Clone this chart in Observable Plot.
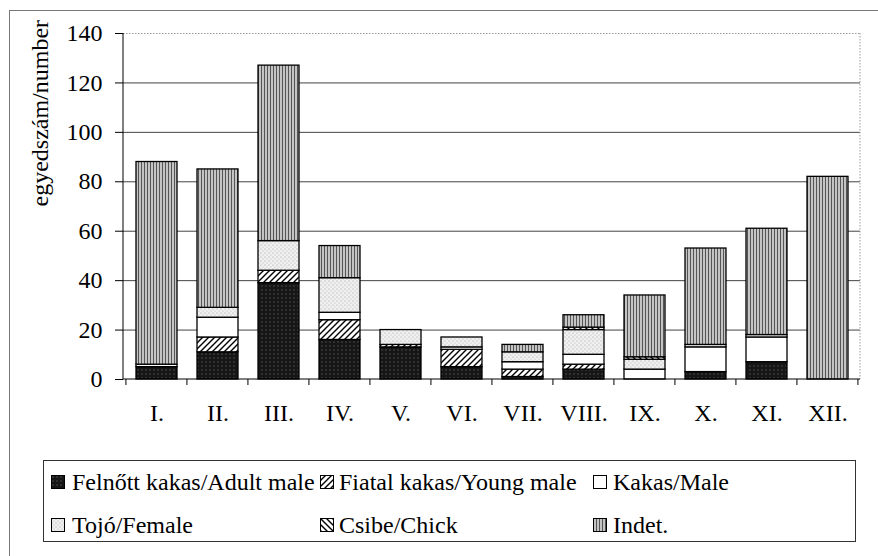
<!DOCTYPE html>
<html><head><meta charset="utf-8">
<script src="https://cdn.jsdelivr.net/npm/d3@7"></script>
<script src="https://cdn.jsdelivr.net/npm/@observablehq/plot@0.6"></script>
<style>
body{margin:0;background:#fff;overflow:hidden;font-family:"Liberation Serif",serif}
#wrap{position:relative;width:878px;height:556px;overflow:hidden;font-family:"Liberation Serif",serif;color:#000}
#frame{position:absolute;left:9px;top:10px;width:880px;height:600px;border:1px solid #777;box-sizing:border-box}
#chart{position:absolute;left:0;top:0}
#legend{position:absolute;left:43px;top:460px;width:813px;height:82px;border:1px solid #333;box-sizing:border-box}
.sw{position:absolute;width:14px;height:14px}
.lt{position:absolute;font-family:"Liberation Serif",serif;font-size:24px;line-height:24px;white-space:nowrap}
</style></head><body>
<svg width="0" height="0" style="position:absolute">
<defs>
<pattern id="p-adult" patternUnits="userSpaceOnUse" width="4" height="4">
<rect width="4" height="4" fill="#161616"/><circle cx="2" cy="2" r="0.7" fill="#5a5a5a"/>
</pattern>
<pattern id="p-young" patternUnits="userSpaceOnUse" width="6" height="6">
<rect width="6" height="6" fill="#fff"/>
<path d="M0,6 L6,0 M-1.5,1.5 L1.5,-1.5 M4.5,7.5 L7.5,4.5" stroke="#000" stroke-width="1.4"/>
</pattern>
<pattern id="p-male" patternUnits="userSpaceOnUse" width="4" height="4">
<rect width="4" height="4" fill="#fff"/>
</pattern>
<pattern id="p-female" patternUnits="userSpaceOnUse" width="4" height="4">
<rect width="4" height="4" fill="#f0f0f0"/><circle cx="1" cy="1" r="0.6" fill="#9a9a9a"/><circle cx="3" cy="3" r="0.6" fill="#b5b5b5"/>
</pattern>
<pattern id="p-chick" patternUnits="userSpaceOnUse" width="6" height="6">
<rect width="6" height="6" fill="#fff"/>
<path d="M0,0 L6,6 M-1.5,4.5 L1.5,7.5 M4.5,-1.5 L7.5,1.5" stroke="#000" stroke-width="1.4"/>
</pattern>
<pattern id="p-indet" patternUnits="userSpaceOnUse" width="3" height="3">
<rect width="3" height="3" fill="#c4c4c4"/><rect x="0" width="1" height="3" fill="#555"/>
</pattern>
</defs>
</svg>
<div id="wrap">
<div id="frame"></div>
<div id="chart"></div>
<div id="legend"></div>
</div>
<script>
const months = ["I.","II.","III.","IV.","V.","VI.","VII.","VIII.","IX.","X.","XI.","XII."];
const series = ["Felnőtt kakas/Adult male","Fiatal kakas/Young male","Kakas/Male","Tojó/Female","Csibe/Chick","Indet."];
const adult  = [5, 11, 39, 16, 13, 5, 1, 4, 0, 3, 7, 0];
const young  = [0, 6, 5, 8, 1, 7, 3, 2, 0, 0, 0, 0];
const male   = [1, 8, 0, 3, 0, 1, 3, 4, 4, 10, 10, 0];
const female = [0, 4, 12, 14, 6, 4, 4, 10, 4, 1, 1, 0];
const chick  = [0, 0, 0, 0, 0, 0, 0, 1, 1, 0, 0, 0];
const indet  = [82, 56, 71, 13, 0, 0, 3, 5, 25, 39, 43, 82];
const yTicks = [0, 20, 40, 60, 80, 100, 120, 140];
const yTitle = "egyedszám/number";
const patterns = ["url(#p-adult)","url(#p-young)","url(#p-male)","url(#p-female)","url(#p-chick)","url(#p-indet)"];
const FONT = "Liberation Serif";

const table = [];
[adult, young, male, female, chick, indet].forEach((vals, si) => {
  vals.forEach((v, i) => { if (v > 0) table.push({month: months[i], series: series[si], value: v}); });
});

const PI = 0.33;
function axesMark(index, scales, values, dims) {
  const {width, height, marginLeft, marginRight, marginTop, marginBottom} = dims;
  const x0 = marginLeft, x1 = width - marginRight, yb = height - marginBottom, yt = marginTop;
  const xs = scales.x;
  const step = xs(months[1]) - xs(months[0]);
  const gap = step * PI / 2;
  const bounds = months.map(m => xs(m) - gap);
  bounds.push(bounds[bounds.length - 1] + step);
  const g = d3.create("svg:g");
  g.append("line").attr("x1", x1).attr("x2", x1).attr("y1", yt).attr("y2", yb)
    .attr("stroke", "#999").attr("stroke-dasharray", "1.5,1.5");
  g.append("line").attr("x1", x0).attr("x2", x0).attr("y1", yt).attr("y2", yb).attr("stroke", "#000");
  g.append("line").attr("x1", x0).attr("x2", x1).attr("y1", yb).attr("y2", yb).attr("stroke", "#000");
  for (const b of bounds) {
    g.append("line").attr("x1", b).attr("x2", b).attr("y1", yb).attr("y2", yb + 6).attr("stroke", "#000");
  }
  return g.node();
}

const chart = Plot.plot({
  width: 878, height: 445,
  marginLeft: 123, marginRight: 18, marginTop: 33, marginBottom: 66,
  style: {fontFamily: FONT, fontSize: "24px", background: "transparent", color: "#000", overflow: "visible"},
  x: {domain: months, paddingInner: PI, paddingOuter: PI / 2},
  y: {domain: [0, 140]},
  color: {domain: series, range: patterns},
  marks: [
    Plot.ruleY(yTicks.filter(t => t > 0 && t < 140), {stroke: "#444", strokeWidth: 1}),
    Plot.ruleY([140], {stroke: "#999", strokeDasharray: "1.5,1.5"}),
    Plot.barY(table, {x: "month", y: "value", fill: "series", stroke: "#000", strokeWidth: 1.3}),
    Plot.axisY({ticks: yTicks, tickSize: 8, tickPadding: 13, fontSize: 24, fontFamily: FONT, label: null}),
    Plot.axisX({tickSize: 0, tickPadding: 24, fontSize: 24, fontFamily: FONT, label: null}),
    axesMark,
    Plot.text([yTitle], {frameAnchor: "left", dx: -83, rotate: -90, fontSize: 24, fontFamily: FONT})
  ]
});
document.getElementById("chart").appendChild(chart);

// legend
const wrap = document.getElementById("wrap");
const cols = [{sw: 51, tx: 72}, {sw: 320, tx: 339}, {sw: 593, tx: 613}];
const rows = [{sw: 475, tx: 470}, {sw: 518, tx: 513}];
series.forEach((s, i) => {
  const c = cols[i % 3], r = rows[Math.floor(i / 3)];
  const sw = document.createElementNS("http://www.w3.org/2000/svg", "svg");
  sw.setAttribute("class", "sw"); sw.setAttribute("width", 14); sw.setAttribute("height", 14);
  sw.style.left = c.sw + "px"; sw.style.top = r.sw + "px";
  const rect = document.createElementNS("http://www.w3.org/2000/svg", "rect");
  rect.setAttribute("x", 0.5); rect.setAttribute("y", 0.5); rect.setAttribute("width", 13); rect.setAttribute("height", 13);
  rect.setAttribute("fill", patterns[i]); rect.setAttribute("stroke", "#000"); rect.setAttribute("stroke-width", 1);
  sw.appendChild(rect);
  wrap.appendChild(sw);
  const t = document.createElement("div");
  t.className = "lt"; t.textContent = s;
  t.style.left = c.tx + "px"; t.style.top = r.tx + "px";
  wrap.appendChild(t);
});
</script>
</body></html>
